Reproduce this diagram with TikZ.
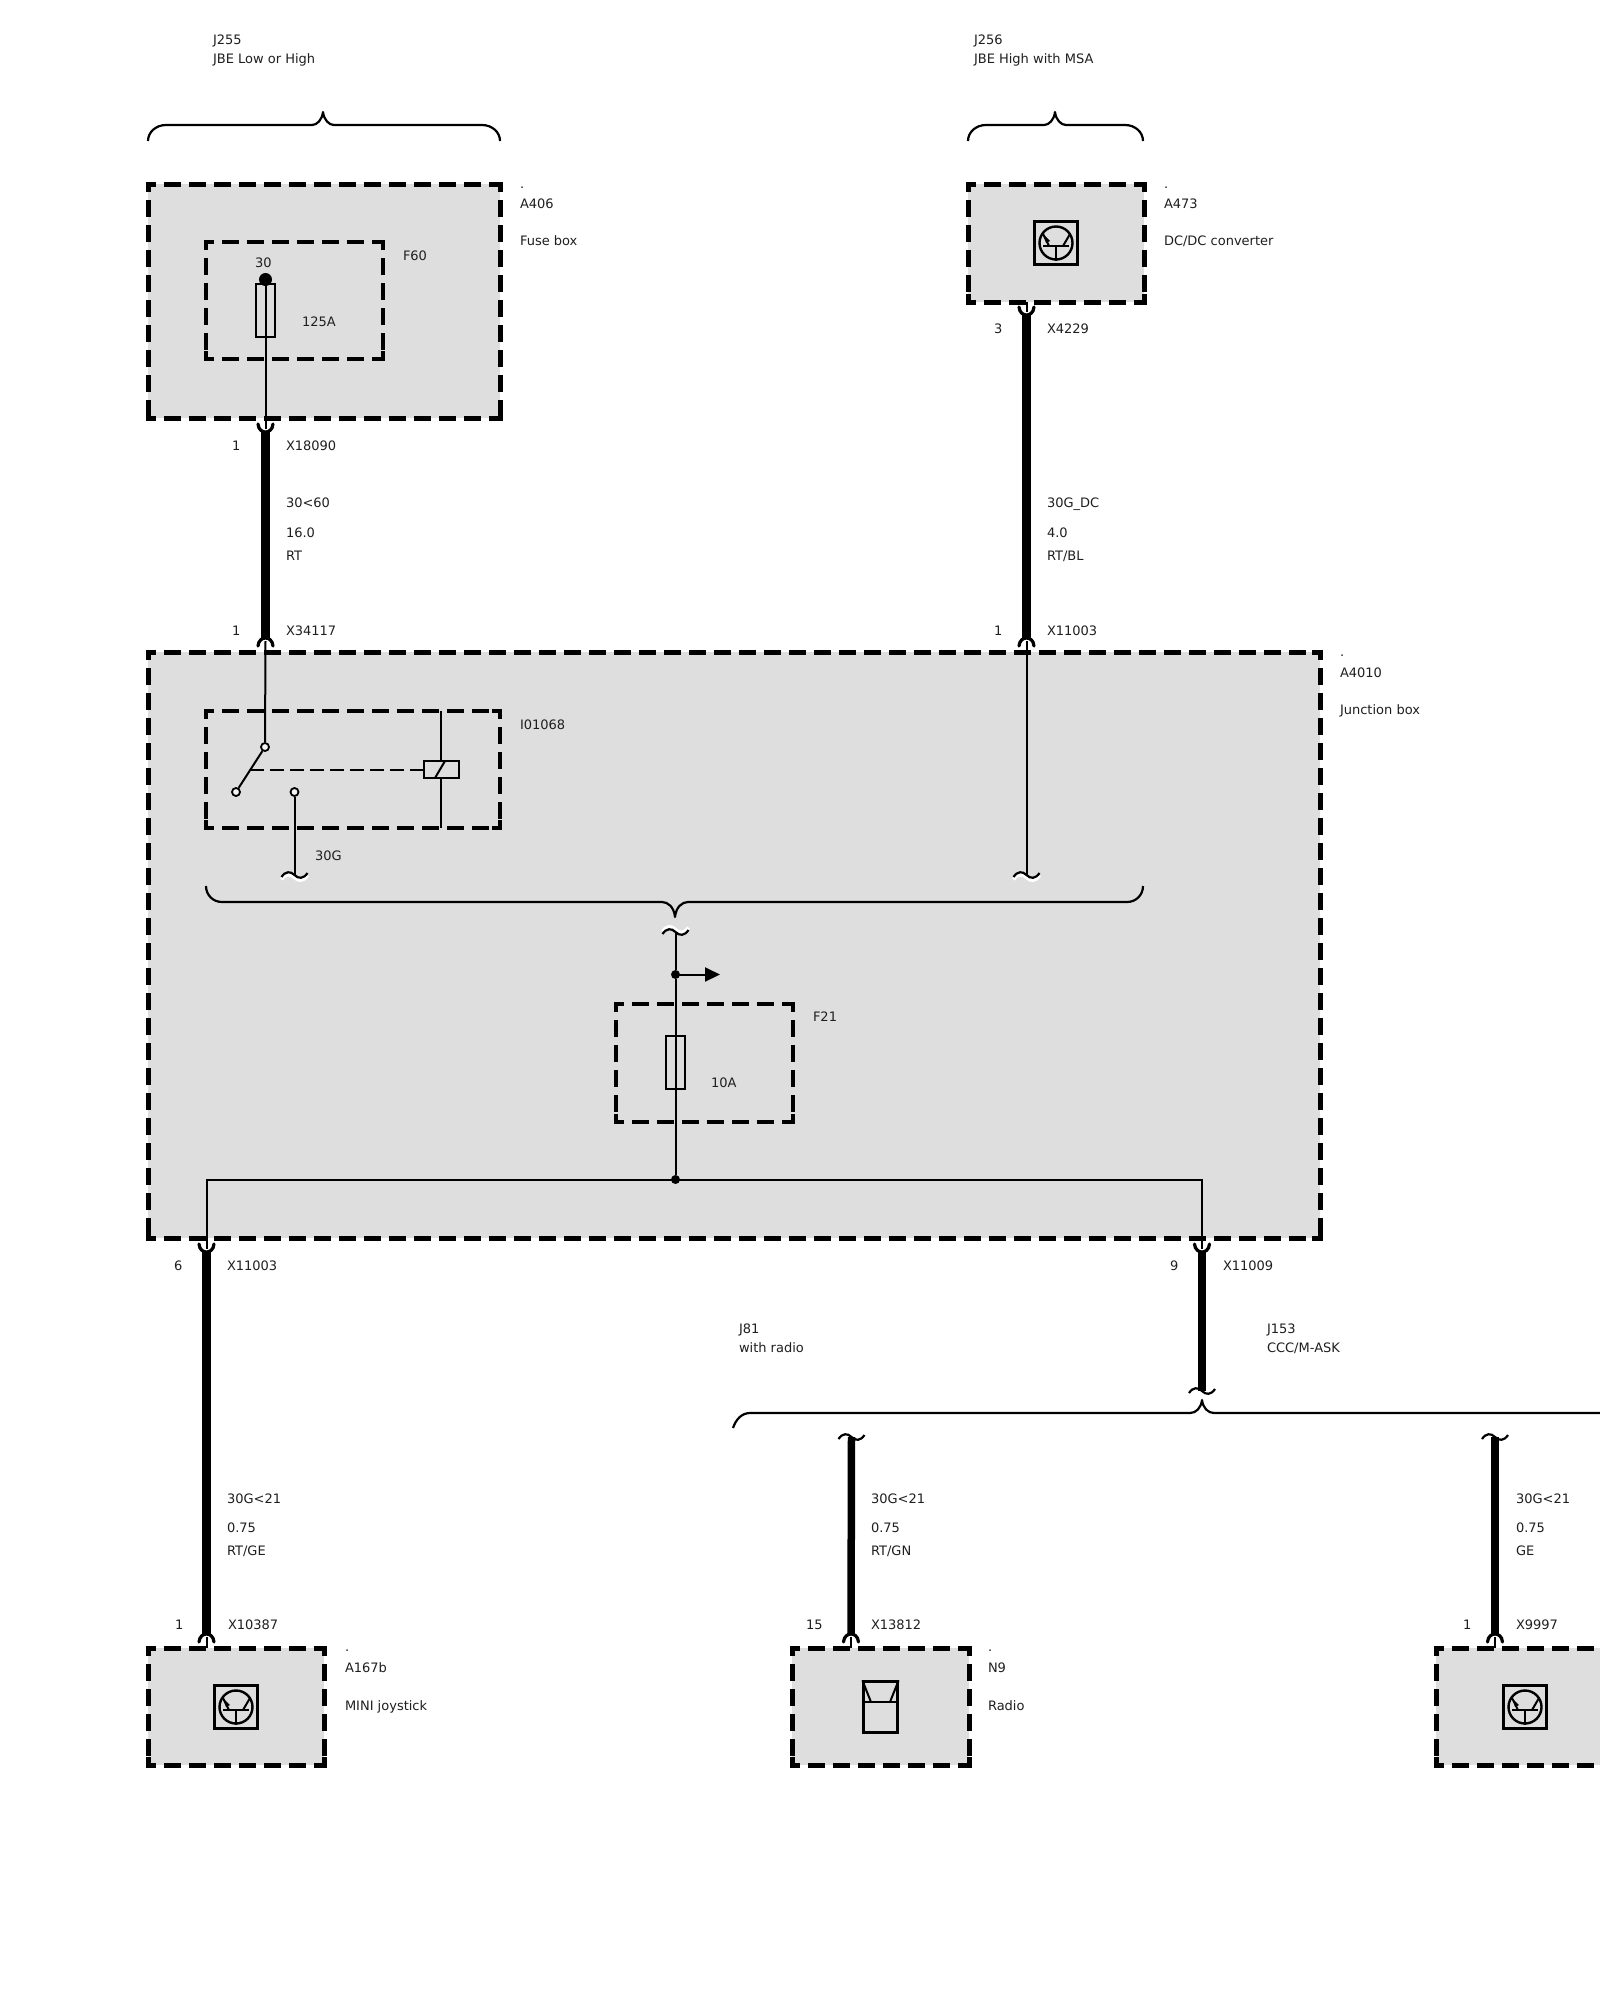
\documentclass[tikz,border=0pt]{standalone}
\usepackage{fontspec}
\setmainfont{DejaVu Sans}
\usetikzlibrary{arrows.meta,fit}
\definecolor{boxgrey}{RGB}{222,222,222}
\tikzset{
  lbl/.style={anchor=base west,inner sep=0pt,outer sep=0pt,text=black!88,font=\fontsize{13}{15}\selectfont},
  thinw/.style={line width=2pt,black},
  thickw/.style={line width=8.5pt,black},
  fork/.style={line width=3.2pt,black,line cap=round},
  bracew/.style={line width=2.2pt,black,line join=round},
  fusebox/.style={draw=black,line width=1.6pt,fill=none,minimum width=19pt,minimum height=53pt,inner sep=0pt},
  dotn/.style={circle,fill=black,inner sep=0pt,minimum size=9pt},
  contact/.style={circle,draw=black,line width=1.8pt,fill=white!70!boxgrey,inner sep=0pt,minimum size=8pt},
}
% label: name, x, centre y, text
\newcommand{\lab}[4]{\node[lbl] (#1) at (#2,#3+5) {#4};}
% dashed box: name, x1,y1,x2,y2, line width, fill colour
\newcommand{\dbox}[7]{%
  \coordinate (#1-a) at (#2,#3);\coordinate (#1-b) at (#4,#5);
  \node[fit=(#1-a)(#1-b),inner sep=0pt,outer sep=0pt,fill=#7] (#1) {};
  \begin{scope}[line width=#6,black,dash pattern=on 17pt off 8pt,dash phase=9pt]
  \draw (#2,#3)--(#4,#3);\draw (#2,#5)--(#4,#5);
  \draw (#2,#3)--(#2,#5);\draw (#4,#3)--(#4,#5);
  \end{scope}
  \draw[line width=#6,black] (#2+8,#3)--(#2,#3)--(#2,#3+8);
  \draw[line width=#6,black] (#4-8,#3)--(#4,#3)--(#4,#3+8);
  \draw[line width=#6,black] (#2+8,#5)--(#2,#5)--(#2,#5-8);
  \draw[line width=#6,black] (#4-8,#5)--(#4,#5)--(#4,#5-8);
}
% fork under a box (cup), y = top of ends; coordinate #1 at inside, #1-b at bottom
\newcommand{\cupf}[3]{%
  \coordinate (#1) at (#2,#3+5);\coordinate (#1-b) at (#2,#3+8);
  \draw[fork] (#2-7.5,#3) .. controls (#2-7,#3+6) and (#2-3,#3+8) .. (#2,#3+8) .. controls (#2+3,#3+8) and (#2+7,#3+6) .. (#2+7.5,#3);}
% fork above a box (cap), y = bottom of ends
\newcommand{\capf}[3]{%
  \coordinate (#1) at (#2,#3-5);\coordinate (#1-b) at (#2,#3-8);
  \draw[fork] (#2-7.5,#3) .. controls (#2-7,#3-6) and (#2-3,#3-8) .. (#2,#3-8) .. controls (#2+3,#3-8) and (#2+7,#3-6) .. (#2+7.5,#3);}
% tilde: name,x,y,halo offset
\newcommand{\tild}[4]{%
  \coordinate (#1) at (#2,#3);
  \ifx&#4&\else
  \draw[line width=3.5pt,white] (#2-13,#3+2+#4) .. controls (#2-9,#3-4+#4) and (#2-4,#3-4+#4) .. (#2,#3+#4) .. controls (#2+4,#3+4+#4) and (#2+9,#3+4+#4) .. (#2+13,#3-2+#4);
  \fi
  \draw[line width=2.2pt,black] (#2-13,#3+2) .. controls (#2-9,#3-4) and (#2-4,#3-4) .. (#2,#3) .. controls (#2+4,#3+4) and (#2+9,#3+4) .. (#2+13,#3-2);}
% transistor symbol: name,cx,cy
\newcommand{\trans}[3]{%
  \node[draw=black,line width=2.2pt,minimum size=43pt,inner sep=0pt] (#1) at (#2,#3) {};
  \node[draw=black,line width=2.4pt,circle,minimum size=33pt,inner sep=0pt] (#1-c) at (#2,#3) {};
  \draw[line width=2pt] (#2-13,#3+3)--(#2+13,#3+3);
  \draw[line width=2pt] (#2,#3+3)--(#1-c.south);
  \draw[line width=2pt] (#2+7,#3+3)--(#2+14,#3-9);
  \draw[line width=2pt] (#2-7,#3+3)--(#2-13,#3-9);
  \fill (#2-12,#3-8)--(#2-6,#3-2)--(#2-10,#3)--cycle;}
\begin{document}
\begin{tikzpicture}[x=1pt,y=-1pt]
\useasboundingbox (0,0) rectangle (1600,2000);
\fill[white] (0,0) rectangle (1600,2000);

%% top braces
\draw[bracew] (148,141) .. controls (148,132) and (156,125) .. (166,125) -- (312,125) .. controls (317,125) and (322,120) .. (323,112) .. controls (324,120) and (329,125) .. (334,125) -- (482,125) .. controls (492,125) and (500,132) .. (500,141);
\draw[bracew] (968,141) .. controls (968,132) and (976,125) .. (986,125) -- (1044,125) .. controls (1049,125) and (1054,120) .. (1055,112) .. controls (1056,120) and (1061,125) .. (1066,125) -- (1125,125) .. controls (1135,125) and (1143,132) .. (1143,141);

%% A406
\dbox{A406}{148}{184}{500}{418}{5pt}{boxgrey}
\dbox{F60}{206}{242}{383}{359}{4pt}{boxgrey}
\node[fusebox] (f60fuse) at (265.5,310.5) {};
\node[dotn,minimum size=13pt] (f60dot) at (265.5,279.5) {};
\cupf{c18090}{265.5}{424}
\draw[thinw] (f60dot.center)--(c18090);
\capf{c34117}{265.5}{646}
\draw[thickw] (c18090-b)--(c34117-b);

%% A473
\dbox{A473}{968}{184}{1144}{302}{5pt}{boxgrey}
\trans{a473sym}{1056}{243}
\coordinate (a473b) at (1026.5,302);
\cupf{c4229}{1026.5}{307}
\draw[thinw] (a473b)--(c4229);
\capf{c11003t}{1026.5}{646}
\draw[thickw] (c4229-b)--(c11003t-b);

%% A4010
\dbox{A4010}{148}{652}{1320}{1238}{5pt}{boxgrey}
\dbox{I01068}{206}{711}{500}{828}{4pt}{boxgrey}
\dbox{F21}{616}{1004}{793}{1122}{4pt}{boxgrey}

% relay and switch
\node[contact] (sw1) at (265,747) {};
\node[contact] (sw2) at (236,792) {};
\node[contact] (sw3) at (294.5,792) {};
\coordinate (blade) at (250,769.5);
\draw[thinw] (c34117)--(sw1);
\draw[thinw] (sw1)--(sw2);
\node[draw=black,line width=2pt,minimum width=35pt,minimum height=17pt,inner sep=0pt] (relay) at (441.5,769.5) {};
\draw[thinw,dash pattern=on 14pt off 6pt] (blade)--(relay.west);
\draw[thinw] (441,711)--(relay.north -| 441,0);
\draw[thinw] (relay.south -| 441,0)--(441,828);
\draw[thinw] (435,778)--(445,761);

% junction lines
\tild{t30g}{294.5}{875}{2.5}
\draw[thinw] (sw3)--(t30g);
\tild{t11003}{1026.5}{875}{2.5}
\draw[thinw] (c11003t)--(t11003);
\draw[bracew] (206,886) .. controls (206,895) and (213,902) .. (222,902) -- (662,902) .. controls (668,902) and (674,907) .. (675,917) .. controls (676,907) and (682,902) .. (688,902) -- (1127,902) .. controls (1136,902) and (1143,895) .. (1143,886);
\tild{tf21}{675.5}{932}{-2.5}
\node[dotn] (jtop) at (675.5,974.5) {};
\coordinate (arrowend) at (720,974.5);
\draw[thinw,-{Triangle[length=15pt,width=14pt]}] (jtop.center)--(arrowend);
\node[fusebox] (f21fuse) at (675.5,1062.5) {};
\node[dotn] (jbus) at (675.5,1179.5) {};
\draw[thinw] (tf21)--(jtop);
\draw[thinw] (jtop)--(jbus);
\cupf{c11003b}{206.5}{1244}
\cupf{c11009}{1202}{1244}
\draw[thinw] (c11003b)--(206.5,1179.5)--(jbus.center)--(1202,1179.5)--(c11009);

%% lower wires
\dbox{A167b}{148}{1648}{324}{1765}{5pt}{boxgrey}
\trans{a167sym}{236}{1707}
\capf{c10387}{206.5}{1642}
\draw[thickw] (c11003b-b)--(c10387-b);
\coordinate (a167t) at (206.5,1648);
\draw[thinw] (c10387)--(a167t);

\dbox{N9}{792}{1648}{969}{1765}{5pt}{boxgrey}
\node[draw=black,line width=2.2pt,minimum width=34pt,minimum height=51pt,inner sep=0pt] (n9sym) at (880.5,1707) {};
\draw[line width=2pt] (n9sym.west |- 0,1702)--(n9sym.east |- 0,1702);
\draw[line width=2pt] (n9sym.north west)--(871,1702);
\draw[line width=2pt] (n9sym.north east)--(890,1702);
\capf{c13812}{851}{1642}
\coordinate (n9t) at (851,1648);
\draw[thinw] (c13812)--(n9t);
\tild{tn9}{851.5}{1437}{}
\draw[line width=7.5pt] (tn9)--(c13812-b);

\dbox{X9997box}{1436}{1648}{1660}{1765}{5pt}{boxgrey}
\trans{x9997sym}{1525}{1707}
\capf{c9997}{1495}{1642}
\coordinate (x9997t) at (1495,1648);
\draw[thinw] (c9997)--(x9997t);
\tild{tx9997}{1495}{1437}{}
\draw[line width=8pt] (tx9997)--(c9997-b);

% bottom brace
\draw[bracew] (733,1428) .. controls (736,1419) and (742,1413) .. (750,1413) -- (1190,1413) .. controls (1196,1413) and (1201,1408) .. (1202,1400) .. controls (1203,1408) and (1208,1413) .. (1214,1413) -- (1620,1413);
\tild{tj153}{1202}{1391}{}
\draw[thickw] (c11009-b)--(tj153);

%% labels
\lab{lj255}{213}{39}{J255}
\lab{lj255b}{213}{58}{JBE Low or High}
\lab{lj256}{974}{39}{J256}
\lab{lj256b}{974}{58}{JBE High with MSA}
\lab{la406d}{520}{183}{.}
\lab{la406}{520}{203}{A406}
\lab{la406t}{520}{240}{Fuse box}
\lab{lf60}{403}{255}{F60}
\lab{l30}{255}{262}{30}
\lab{l125}{302}{321}{125A}
\lab{l1a}{232}{445}{1}
\lab{lx18090}{286}{445}{X18090}
\lab{lw1a}{286}{502}{30<60}
\lab{lw1b}{286}{532}{16.0}
\lab{lw1c}{286}{555}{RT}
\lab{l1b}{232}{630}{1}
\lab{lx34117}{286}{630}{X34117}
\lab{la473d}{1164}{183}{.}
\lab{la473}{1164}{203}{A473}
\lab{la473t}{1164}{240}{DC/DC converter}
\lab{l3}{994}{328}{3}
\lab{lx4229}{1047}{328}{X4229}
\lab{lw2a}{1047}{502}{30G\_DC}
\lab{lw2b}{1047}{532}{4.0}
\lab{lw2c}{1047}{555}{RT/BL}
\lab{l1c}{994}{630}{1}
\lab{lx11003a}{1047}{630}{X11003}
\lab{la4010d}{1340}{651}{.}
\lab{la4010}{1340}{672}{A4010}
\lab{la4010t}{1340}{709}{Junction box}
\lab{li01068}{520}{724}{I01068}
\lab{l30g}{315}{855}{30G}
\lab{lf21}{813}{1016}{F21}
\lab{l10a}{711}{1082}{10A}
\lab{l6}{174}{1265}{6}
\lab{lx11003b}{227}{1265}{X11003}
\lab{l9}{1170}{1265}{9}
\lab{lx11009}{1223}{1265}{X11009}
\lab{lj81}{739}{1328}{J81}
\lab{lj81b}{739}{1347}{with radio}
\lab{lj153}{1267}{1328}{J153}
\lab{lj153b}{1267}{1347}{CCC/M-ASK}
\lab{lw3a}{227}{1498}{30G<21}
\lab{lw3b}{227}{1527}{0.75}
\lab{lw3c}{227}{1550}{RT/GE}
\lab{lw4a}{871}{1498}{30G<21}
\lab{lw4b}{871}{1527}{0.75}
\lab{lw4c}{871}{1550}{RT/GN}
\lab{lw5a}{1516}{1498}{30G<21}
\lab{lw5b}{1516}{1527}{0.75}
\lab{lw5c}{1516}{1550}{GE}
\lab{l1d}{175}{1624}{1}
\lab{lx10387}{228}{1624}{X10387}
\lab{l15}{806}{1624}{15}
\lab{lx13812}{871}{1624}{X13812}
\lab{l1e}{1463}{1624}{1}
\lab{lx9997}{1516}{1624}{X9997}
\lab{la167d}{345}{1646}{.}
\lab{la167}{345}{1667}{A167b}
\lab{la167t}{345}{1705}{MINI joystick}
\lab{ln9d}{988}{1646}{.}
\lab{ln9}{988}{1667}{N9}
\lab{ln9t}{988}{1705}{Radio}
\end{tikzpicture}
\end{document}
